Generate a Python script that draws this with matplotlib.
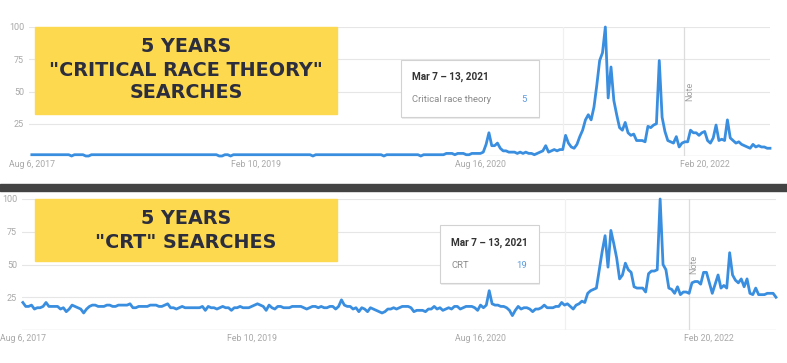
import pandas as pd
import matplotlib
matplotlib.use("Agg")
import matplotlib.pyplot as plt
from matplotlib.patches import Rectangle

W, H = 787, 363

# weekly Google Trends interest, Aug 6 2017 .. Jul 24 2022
weeks = pd.date_range("2017-08-06", periods=261, freq="7D")

crt_theory = [
    1, 1, 1, 1, 1, 1, 1, 1, 1, 1, 1, 1, 1, 1, 0, 1, 1, 1, 1, 0,
    0, 1, 1, 1, 1, 1, 1, 1, 1, 1, 1, 1, 1, 1, 1, 1, 1, 1, 1, 1,
    1, 1, 1, 1, 1, 1, 1, 1, 1, 1, 1, 1, 1, 1, 1, 1, 1, 1, 1, 1,
    1, 1, 1, 1, 1, 1, 0, 0, 1, 1, 0, 1, 1, 1, 1, 1, 1, 1, 1, 1,
    1, 1, 1, 1, 1, 1, 1, 1, 1, 1, 1, 1, 1, 1, 1, 1, 1, 1, 1, 0,
    1, 1, 1, 1, 1, 1, 1, 1, 1, 1, 1, 1, 1, 1, 1, 1, 1, 1, 1, 1,
    1, 1, 1, 1, 0, 1, 1, 1, 1, 1, 1, 1, 1, 1, 1, 1, 1, 0, 1, 1,
    1, 1, 1, 1, 1, 1, 2, 2, 2, 1, 2, 2, 2, 1, 1, 2, 2, 2, 2, 3,
    9, 18, 8, 8, 10, 6, 4, 4, 3, 3,
    3, 2, 3, 2, 3, 2, 2, 1, 2, 3,
    4, 8, 3, 4, 5, 4, 5, 5, 16, 10,
    7, 6, 9, 15, 20, 28, 32, 28, 38, 55,
    74, 80, 100, 45, 69, 43, 32, 22, 20, 26,
    18, 16, 17, 12, 12, 12, 11, 23, 22, 24,
    25, 74, 30, 19, 12, 11, 10, 15, 7, 10,
    11, 11, 20, 18, 18, 16, 18, 19, 12, 10,
    14, 24, 12, 13, 12, 28, 14, 12, 10, 11,
    9, 8, 7, 6, 9, 7, 8, 7, 7, 6, 6,
]

crt = [
    21, 18, 18, 19, 16, 17, 17, 18, 21, 18,
    18, 18, 18, 16, 17, 14, 16, 19, 18, 17,
    16, 13, 16, 18, 19, 19, 18, 18, 18, 19,
    19, 18, 18, 19, 19, 19, 19, 20, 17, 17,
    18, 18, 18, 18, 19, 19, 19, 18, 18, 19,
    20, 17, 17, 16, 17, 18, 17, 17, 17, 17,
    17, 17, 18, 15, 18, 17, 17, 16, 17, 18,
    17, 17, 15, 17, 17, 18, 17, 17, 17, 18,
    19, 20, 19, 18, 15, 19, 17, 16, 18, 18,
    17, 17, 17, 18, 18, 18, 18, 17, 16, 17,
    18, 18, 17, 18, 17, 17, 18, 18, 16, 18,
    23, 19, 18, 18, 16, 17, 14, 17, 16, 14,
    17, 16, 15, 14, 13, 14, 16, 16, 17, 16,
    17, 18, 18, 18, 17, 14, 15, 15, 15, 14,
    16, 16, 18, 16, 17, 15, 16, 17, 16, 18,
    18, 16, 17, 18, 18, 18, 17, 15, 19, 17,
    19, 30, 20, 19, 19, 18, 18, 17, 15, 11,
    15, 18, 16, 17, 17, 16, 14, 16, 16, 17,
    19, 17, 17, 17, 18, 18, 21, 19, 20, 18,
    16, 19, 20, 22, 21, 28, 30, 31, 32, 46,
    60, 72, 48, 76, 66, 55, 39, 42, 51, 46,
    44, 33, 32, 32, 32, 29, 43, 45, 45, 46,
    100, 50, 46, 32, 31, 28, 33, 27, 29, 29,
    28, 36, 37, 37, 35, 44, 44, 36, 28, 35,
    42, 32, 34, 32, 59, 42, 38, 36, 39, 33,
    39, 28, 27, 32, 27, 27, 27, 28, 28, 28, 25,
]

tick_dates = pd.to_datetime(["2017-08-06", "2019-02-10", "2020-08-16", "2022-02-20"])
tick_labels = ["Aug 6, 2017", "Feb 10, 2019", "Aug 16, 2020", "Feb 20, 2022"]
y_ticks = [25, 50, 75, 100]
note_date = pd.Timestamp("2022-01-01")
hover_date = pd.Timestamp("2021-03-07")
hover_label = "Mar 7 \u2013 13, 2021"

LINE = "#3a8ee0"
GRID = "#e6e6e6"
LABEL = "#a8a8a8"
NAVY = "#2c2e3d"
YELLOW = "#fdd94f"
FONT = "Roboto"


def fx(px):
    return px / W


def fy(py):
    return 1 - py / H


def panel(left, right, top, base, values, xstart):
    ax = fig.add_axes([fx(left), fy(base), fx(right - left), (base - top) / H])
    ax.plot(weeks, values, color=LINE, lw=2.0, clip_on=False, solid_joinstyle="round", zorder=3)
    ax.set_ylim(0, 100)
    ax.set_xlim(xstart, weeks[-1])
    for s in ax.spines.values():
        s.set_visible(False)
    for v in y_ticks:
        ax.axhline(v, color=GRID, lw=0.8, zorder=1)
    ax.axhline(0, color="#c8c8c8", lw=0.9, zorder=1)
    ax.axvline(note_date, color="#dcdcdc", lw=0.9, zorder=1)
    ax.axvline(hover_date, color="#f0f0f0", lw=0.9, zorder=1)
    ax.text(note_date + pd.Timedelta(days=13), 50, "Note", rotation=90, ha="center", va="center",
            color="#a0a0a0", fontsize=6.5, family=FONT)
    ax.set_yticks(y_ticks)
    ax.set_yticklabels([str(v) for v in y_ticks], family=FONT, fontsize=6.5, color=LABEL)
    ax.set_xticks(tick_dates)
    ax.set_xticklabels(tick_labels, family=FONT, fontsize=6.3, color=LABEL)
    ax.tick_params(length=0, axis="y", pad=3.5)
    ax.tick_params(length=0, axis="x", pad=3)
    return ax


def yellow_box(x0, y0, x1, y1, lines, line_ys):
    fig.patches.append(Rectangle((fx(x0), fy(y1)), fx(x1 - x0), (y1 - y0) / H,
                                 transform=fig.transFigure, color=YELLOW, zorder=2))
    cx = (x0 + x1) / 2
    for txt, yy in zip(lines, line_ys):
        fig.text(fx(cx), fy(yy), txt, ha="center", va="center", color=NAVY,
                 fontsize=13.8, family="DejaVu Sans", fontweight="bold", zorder=3)


def tooltip(x0, y0, x1, y1, name, value):
    fig.patches.append(Rectangle((fx(x0 + 1), fy(y1 + 1.5)), fx(x1 - x0), (y1 - y0) / H,
                                 transform=fig.transFigure, facecolor="#ececec", edgecolor="none", zorder=2))
    fig.patches.append(Rectangle((fx(x0), fy(y1)), fx(x1 - x0), (y1 - y0) / H,
                                 transform=fig.transFigure, facecolor="white", edgecolor="#d2d2d2",
                                 lw=0.8, zorder=2))
    h = y1 - y0
    fig.text(fx(x0 + 11), fy(y0 + h * 0.30), hover_label, ha="left", va="center",
             fontsize=7.2, fontweight="bold", color="#333333", family=FONT, zorder=3)
    fig.text(fx(x0 + 11), fy(y0 + h * 0.70), name, ha="left", va="center",
             fontsize=6.8, color="#8a8a8a", family=FONT, zorder=3)
    fig.text(fx(x1 - 12), fy(y0 + h * 0.70), str(value), ha="right", va="center",
             fontsize=6.8, color="#5b9be0", family=FONT, zorder=3)


fig = plt.figure(figsize=(W / 100, H / 100), dpi=100)
fig.patch.set_facecolor("white")

panel(29, 770, 27, 156, crt_theory, weeks[0] - pd.Timedelta(days=7))
panel(22, 776, 199, 330, crt, weeks[0] - pd.Timedelta(days=2))

# dark divider between the two screenshots
fig.patches.append(Rectangle((0, fy(191)), 1, 7 / H, transform=fig.transFigure,
                             color="#434343", zorder=2))

yellow_box(35, 27, 337, 114, ["5 YEARS", "\"CRITICAL RACE THEORY\"", "SEARCHES"], [47, 70, 93])
yellow_box(35, 199, 337, 261, ["5 YEARS", "\"CRT\" SEARCHES"], [218, 242])

hv = weeks.get_loc(hover_date)
tooltip(401, 60, 539, 117, "Critical race theory", crt_theory[hv])
tooltip(440, 225, 539, 283, "CRT", crt[hv])

fig.savefig("out.png", dpi=100)
